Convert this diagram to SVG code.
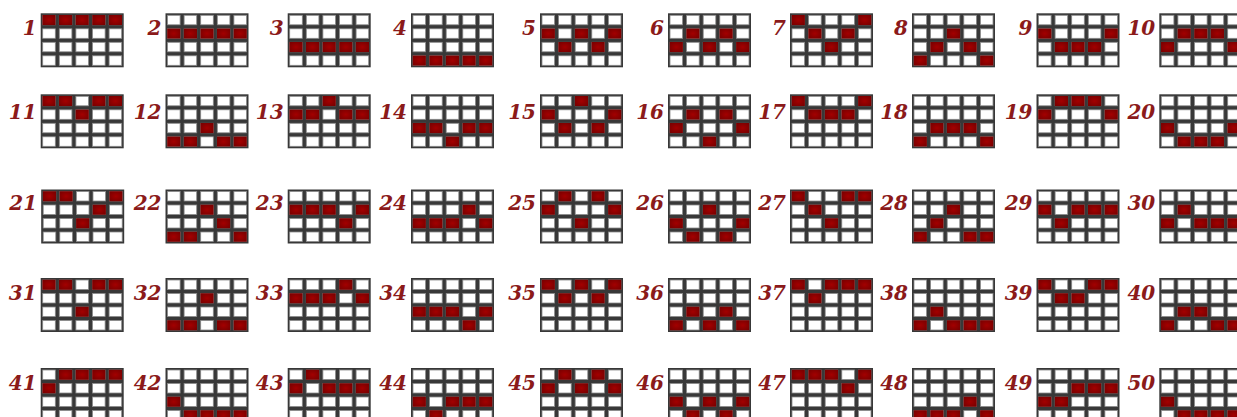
<svg xmlns="http://www.w3.org/2000/svg" xmlns:xlink="http://www.w3.org/1999/xlink" width="1237" height="417" viewBox="0 0 1237 417">
<style>
.num{font-family:"DejaVu Serif","Liberation Serif",serif;font-style:italic;font-weight:bold;font-size:20px;fill:#8b1a1a;text-anchor:end}
.bg{fill:#383838}
.cell{fill:#ffffff;stroke:#8a8a8a;stroke-width:0.8}
.hit{fill:url(#red)}
</style>
<defs>
<radialGradient id="red" cx="0.5" cy="0.5" r="0.6"><stop offset="0" stop-color="#a30000"/><stop offset="1" stop-color="#7a0000"/></radialGradient>
<rect id="h" class="hit" width="13.2" height="10.1"/>
<g id="grid">
<rect class="bg" width="83" height="54"/>
<rect class="cell" x="2" y="2" width="12.6" height="9.5"/><rect class="cell" x="18.6" y="2" width="12.6" height="9.5"/><rect class="cell" x="35.2" y="2" width="12.6" height="9.5"/><rect class="cell" x="51.8" y="2" width="12.6" height="9.5"/><rect class="cell" x="68.4" y="2" width="12.6" height="9.5"/>
<rect class="cell" x="2" y="15.5" width="12.6" height="9.5"/><rect class="cell" x="18.6" y="15.5" width="12.6" height="9.5"/><rect class="cell" x="35.2" y="15.5" width="12.6" height="9.5"/><rect class="cell" x="51.8" y="15.5" width="12.6" height="9.5"/><rect class="cell" x="68.4" y="15.5" width="12.6" height="9.5"/>
<rect class="cell" x="2" y="29" width="12.6" height="9.5"/><rect class="cell" x="18.6" y="29" width="12.6" height="9.5"/><rect class="cell" x="35.2" y="29" width="12.6" height="9.5"/><rect class="cell" x="51.8" y="29" width="12.6" height="9.5"/><rect class="cell" x="68.4" y="29" width="12.6" height="9.5"/>
<rect class="cell" x="2" y="42.5" width="12.6" height="9.5"/><rect class="cell" x="18.6" y="42.5" width="12.6" height="9.5"/><rect class="cell" x="35.2" y="42.5" width="12.6" height="9.5"/><rect class="cell" x="51.8" y="42.5" width="12.6" height="9.5"/><rect class="cell" x="68.4" y="42.5" width="12.6" height="9.5"/>
</g>
</defs>
<rect width="1237" height="417" fill="#ffffff"/>
<g id="connectors"/>
<!-- row 1 -->
<g id="line-1" transform="translate(40.7,13.3)"><use href="#grid"/><use href="#h" x="1.7" y="1.7"/><use href="#h" x="18.3" y="1.7"/><use href="#h" x="34.9" y="1.7"/><use href="#h" x="51.5" y="1.7"/><use href="#h" x="68.1" y="1.7"/><text class="num" x="-4" y="22">1</text></g>
<g id="line-2" transform="translate(165.5,13.3)"><use href="#grid"/><use href="#h" x="1.7" y="15.2"/><use href="#h" x="18.3" y="15.2"/><use href="#h" x="34.9" y="15.2"/><use href="#h" x="51.5" y="15.2"/><use href="#h" x="68.1" y="15.2"/><text class="num" x="-4" y="22">2</text></g>
<g id="line-3" transform="translate(287.7,13.3)"><use href="#grid"/><use href="#h" x="1.7" y="28.7"/><use href="#h" x="18.3" y="28.7"/><use href="#h" x="34.9" y="28.7"/><use href="#h" x="51.5" y="28.7"/><use href="#h" x="68.1" y="28.7"/><text class="num" x="-4" y="22">3</text></g>
<g id="line-4" transform="translate(411,13.3)"><use href="#grid"/><use href="#h" x="1.7" y="42.2"/><use href="#h" x="18.3" y="42.2"/><use href="#h" x="34.9" y="42.2"/><use href="#h" x="51.5" y="42.2"/><use href="#h" x="68.1" y="42.2"/><text class="num" x="-4" y="22">4</text></g>
<g id="line-5" transform="translate(540,13.3)"><use href="#grid"/><use href="#h" x="1.7" y="15.2"/><use href="#h" x="18.3" y="28.7"/><use href="#h" x="34.9" y="15.2"/><use href="#h" x="51.5" y="28.7"/><use href="#h" x="68.1" y="15.2"/><text class="num" x="-4" y="22">5</text></g>
<g id="line-6" transform="translate(668,13.3)"><use href="#grid"/><use href="#h" x="1.7" y="28.7"/><use href="#h" x="18.3" y="15.2"/><use href="#h" x="34.9" y="28.7"/><use href="#h" x="51.5" y="15.2"/><use href="#h" x="68.1" y="28.7"/><text class="num" x="-4" y="22">6</text></g>
<g id="line-7" transform="translate(790,13.3)"><use href="#grid"/><use href="#h" x="1.7" y="1.7"/><use href="#h" x="18.3" y="15.2"/><use href="#h" x="34.9" y="28.7"/><use href="#h" x="51.5" y="15.2"/><use href="#h" x="68.1" y="1.7"/><text class="num" x="-4" y="22">7</text></g>
<g id="line-8" transform="translate(912,13.3)"><use href="#grid"/><use href="#h" x="1.7" y="42.2"/><use href="#h" x="18.3" y="28.7"/><use href="#h" x="34.9" y="15.2"/><use href="#h" x="51.5" y="28.7"/><use href="#h" x="68.1" y="42.2"/><text class="num" x="-4" y="22">8</text></g>
<g id="line-9" transform="translate(1036.5,13.3)"><use href="#grid"/><use href="#h" x="1.7" y="15.2"/><use href="#h" x="18.3" y="28.7"/><use href="#h" x="34.9" y="28.7"/><use href="#h" x="51.5" y="28.7"/><use href="#h" x="68.1" y="15.2"/><text class="num" x="-4" y="22">9</text></g>
<g id="line-10" transform="translate(1159.3,13.3)"><use href="#grid"/><use href="#h" x="1.7" y="28.7"/><use href="#h" x="18.3" y="15.2"/><use href="#h" x="34.9" y="15.2"/><use href="#h" x="51.5" y="15.2"/><use href="#h" x="68.1" y="28.7"/><text class="num" x="-4" y="22">10</text></g>
<!-- row 2 -->
<g id="line-11" transform="translate(40.7,94.3)"><use href="#grid"/><use href="#h" x="1.7" y="1.7"/><use href="#h" x="18.3" y="1.7"/><use href="#h" x="34.9" y="15.2"/><use href="#h" x="51.5" y="1.7"/><use href="#h" x="68.1" y="1.7"/><text class="num" x="-4" y="25">11</text></g>
<g id="line-12" transform="translate(165.5,94.3)"><use href="#grid"/><use href="#h" x="1.7" y="42.2"/><use href="#h" x="18.3" y="42.2"/><use href="#h" x="34.9" y="28.7"/><use href="#h" x="51.5" y="42.2"/><use href="#h" x="68.1" y="42.2"/><text class="num" x="-4" y="25">12</text></g>
<g id="line-13" transform="translate(287.7,94.3)"><use href="#grid"/><use href="#h" x="1.7" y="15.2"/><use href="#h" x="18.3" y="15.2"/><use href="#h" x="34.9" y="1.7"/><use href="#h" x="51.5" y="15.2"/><use href="#h" x="68.1" y="15.2"/><text class="num" x="-4" y="25">13</text></g>
<g id="line-14" transform="translate(411,94.3)"><use href="#grid"/><use href="#h" x="1.7" y="28.7"/><use href="#h" x="18.3" y="28.7"/><use href="#h" x="34.9" y="42.2"/><use href="#h" x="51.5" y="28.7"/><use href="#h" x="68.1" y="28.7"/><text class="num" x="-4" y="25">14</text></g>
<g id="line-15" transform="translate(540,94.3)"><use href="#grid"/><use href="#h" x="1.7" y="15.2"/><use href="#h" x="18.3" y="28.7"/><use href="#h" x="34.9" y="1.7"/><use href="#h" x="51.5" y="28.7"/><use href="#h" x="68.1" y="15.2"/><text class="num" x="-4" y="25">15</text></g>
<g id="line-16" transform="translate(668,94.3)"><use href="#grid"/><use href="#h" x="1.7" y="28.7"/><use href="#h" x="18.3" y="15.2"/><use href="#h" x="34.9" y="42.2"/><use href="#h" x="51.5" y="15.2"/><use href="#h" x="68.1" y="28.7"/><text class="num" x="-4" y="25">16</text></g>
<g id="line-17" transform="translate(790,94.3)"><use href="#grid"/><use href="#h" x="1.7" y="1.7"/><use href="#h" x="18.3" y="15.2"/><use href="#h" x="34.9" y="15.2"/><use href="#h" x="51.5" y="15.2"/><use href="#h" x="68.1" y="1.7"/><text class="num" x="-4" y="25">17</text></g>
<g id="line-18" transform="translate(912,94.3)"><use href="#grid"/><use href="#h" x="1.7" y="42.2"/><use href="#h" x="18.3" y="28.7"/><use href="#h" x="34.9" y="28.7"/><use href="#h" x="51.5" y="28.7"/><use href="#h" x="68.1" y="42.2"/><text class="num" x="-4" y="25">18</text></g>
<g id="line-19" transform="translate(1036.5,94.3)"><use href="#grid"/><use href="#h" x="1.7" y="15.2"/><use href="#h" x="18.3" y="1.7"/><use href="#h" x="34.9" y="1.7"/><use href="#h" x="51.5" y="1.7"/><use href="#h" x="68.1" y="15.2"/><text class="num" x="-4" y="25">19</text></g>
<g id="line-20" transform="translate(1159.3,94.3)"><use href="#grid"/><use href="#h" x="1.7" y="28.7"/><use href="#h" x="18.3" y="42.2"/><use href="#h" x="34.9" y="42.2"/><use href="#h" x="51.5" y="42.2"/><use href="#h" x="68.1" y="28.7"/><text class="num" x="-4" y="25">20</text></g>
<!-- row 3 -->
<g id="line-21" transform="translate(41.2,189.5)"><use href="#grid"/><use href="#h" x="1.7" y="1.7"/><use href="#h" x="18.3" y="1.7"/><use href="#h" x="34.9" y="28.7"/><use href="#h" x="51.5" y="15.2"/><use href="#h" x="68.1" y="1.7"/><text class="num" x="-4" y="20.5">21</text></g>
<g id="line-22" transform="translate(165.5,189.5)"><use href="#grid"/><use href="#h" x="1.7" y="42.2"/><use href="#h" x="18.3" y="42.2"/><use href="#h" x="34.9" y="15.2"/><use href="#h" x="51.5" y="28.7"/><use href="#h" x="68.1" y="42.2"/><text class="num" x="-4" y="20.5">22</text></g>
<g id="line-23" transform="translate(287.7,189.5)"><use href="#grid"/><use href="#h" x="1.7" y="15.2"/><use href="#h" x="18.3" y="15.2"/><use href="#h" x="34.9" y="15.2"/><use href="#h" x="51.5" y="28.7"/><use href="#h" x="68.1" y="15.2"/><text class="num" x="-4" y="20.5">23</text></g>
<g id="line-24" transform="translate(411,189.5)"><use href="#grid"/><use href="#h" x="1.7" y="28.7"/><use href="#h" x="18.3" y="28.7"/><use href="#h" x="34.9" y="28.7"/><use href="#h" x="51.5" y="15.2"/><use href="#h" x="68.1" y="28.7"/><text class="num" x="-4" y="20.5">24</text></g>
<g id="line-25" transform="translate(540,189.5)"><use href="#grid"/><use href="#h" x="1.7" y="15.2"/><use href="#h" x="18.3" y="1.7"/><use href="#h" x="34.9" y="28.7"/><use href="#h" x="51.5" y="1.7"/><use href="#h" x="68.1" y="15.2"/><text class="num" x="-4" y="20.5">25</text></g>
<g id="line-26" transform="translate(668,189.5)"><use href="#grid"/><use href="#h" x="1.7" y="28.7"/><use href="#h" x="18.3" y="42.2"/><use href="#h" x="34.9" y="15.2"/><use href="#h" x="51.5" y="42.2"/><use href="#h" x="68.1" y="28.7"/><text class="num" x="-4" y="20.5">26</text></g>
<g id="line-27" transform="translate(790,189.5)"><use href="#grid"/><use href="#h" x="1.7" y="1.7"/><use href="#h" x="18.3" y="15.2"/><use href="#h" x="34.9" y="28.7"/><use href="#h" x="51.5" y="1.7"/><use href="#h" x="68.1" y="1.7"/><text class="num" x="-4" y="20.5">27</text></g>
<g id="line-28" transform="translate(912,189.5)"><use href="#grid"/><use href="#h" x="1.7" y="42.2"/><use href="#h" x="18.3" y="28.7"/><use href="#h" x="34.9" y="15.2"/><use href="#h" x="51.5" y="42.2"/><use href="#h" x="68.1" y="42.2"/><text class="num" x="-4" y="20.5">28</text></g>
<g id="line-29" transform="translate(1036.5,189.5)"><use href="#grid"/><use href="#h" x="1.7" y="15.2"/><use href="#h" x="18.3" y="28.7"/><use href="#h" x="34.9" y="15.2"/><use href="#h" x="51.5" y="15.2"/><use href="#h" x="68.1" y="15.2"/><text class="num" x="-4" y="20.5">29</text></g>
<g id="line-30" transform="translate(1159.3,189.5)"><use href="#grid"/><use href="#h" x="1.7" y="28.7"/><use href="#h" x="18.3" y="15.2"/><use href="#h" x="34.9" y="28.7"/><use href="#h" x="51.5" y="28.7"/><use href="#h" x="68.1" y="28.7"/><text class="num" x="-4" y="20.5">30</text></g>
<!-- row 4 -->
<g id="line-31" transform="translate(40.7,278)"><use href="#grid"/><use href="#h" x="1.7" y="1.7"/><use href="#h" x="18.3" y="1.7"/><use href="#h" x="34.9" y="28.7"/><use href="#h" x="51.5" y="1.7"/><use href="#h" x="68.1" y="1.7"/><text class="num" x="-4" y="22">31</text></g>
<g id="line-32" transform="translate(165.5,278)"><use href="#grid"/><use href="#h" x="1.7" y="42.2"/><use href="#h" x="18.3" y="42.2"/><use href="#h" x="34.9" y="15.2"/><use href="#h" x="51.5" y="42.2"/><use href="#h" x="68.1" y="42.2"/><text class="num" x="-4" y="22">32</text></g>
<g id="line-33" transform="translate(287.7,278)"><use href="#grid"/><use href="#h" x="1.7" y="15.2"/><use href="#h" x="18.3" y="15.2"/><use href="#h" x="34.9" y="15.2"/><use href="#h" x="51.5" y="1.7"/><use href="#h" x="68.1" y="15.2"/><text class="num" x="-4" y="22">33</text></g>
<g id="line-34" transform="translate(411,278)"><use href="#grid"/><use href="#h" x="1.7" y="28.7"/><use href="#h" x="18.3" y="28.7"/><use href="#h" x="34.9" y="28.7"/><use href="#h" x="51.5" y="42.2"/><use href="#h" x="68.1" y="28.7"/><text class="num" x="-4" y="22">34</text></g>
<g id="line-35" transform="translate(540,278)"><use href="#grid"/><use href="#h" x="1.7" y="1.7"/><use href="#h" x="18.3" y="15.2"/><use href="#h" x="34.9" y="1.7"/><use href="#h" x="51.5" y="15.2"/><use href="#h" x="68.1" y="1.7"/><text class="num" x="-4" y="22">35</text></g>
<g id="line-36" transform="translate(668,278)"><use href="#grid"/><use href="#h" x="1.7" y="42.2"/><use href="#h" x="18.3" y="28.7"/><use href="#h" x="34.9" y="42.2"/><use href="#h" x="51.5" y="28.7"/><use href="#h" x="68.1" y="42.2"/><text class="num" x="-4" y="22">36</text></g>
<g id="line-37" transform="translate(790,278)"><use href="#grid"/><use href="#h" x="1.7" y="1.7"/><use href="#h" x="18.3" y="15.2"/><use href="#h" x="34.9" y="1.7"/><use href="#h" x="51.5" y="1.7"/><use href="#h" x="68.1" y="1.7"/><text class="num" x="-4" y="22">37</text></g>
<g id="line-38" transform="translate(912,278)"><use href="#grid"/><use href="#h" x="1.7" y="42.2"/><use href="#h" x="18.3" y="28.7"/><use href="#h" x="34.9" y="42.2"/><use href="#h" x="51.5" y="42.2"/><use href="#h" x="68.1" y="42.2"/><text class="num" x="-4" y="22">38</text></g>
<g id="line-39" transform="translate(1036.5,278)"><use href="#grid"/><use href="#h" x="1.7" y="1.7"/><use href="#h" x="18.3" y="15.2"/><use href="#h" x="34.9" y="15.2"/><use href="#h" x="51.5" y="1.7"/><use href="#h" x="68.1" y="1.7"/><text class="num" x="-4" y="22">39</text></g>
<g id="line-40" transform="translate(1159.3,278)"><use href="#grid"/><use href="#h" x="1.7" y="42.2"/><use href="#h" x="18.3" y="28.7"/><use href="#h" x="34.9" y="28.7"/><use href="#h" x="51.5" y="42.2"/><use href="#h" x="68.1" y="42.2"/><text class="num" x="-4" y="22">40</text></g>
<!-- row 5 -->
<g id="line-41" transform="translate(40.7,368)"><use href="#grid"/><use href="#h" x="1.7" y="15.2"/><use href="#h" x="18.3" y="1.7"/><use href="#h" x="34.9" y="1.7"/><use href="#h" x="51.5" y="1.7"/><use href="#h" x="68.1" y="1.7"/><text class="num" x="-4" y="22">41</text></g>
<g id="line-42" transform="translate(165.5,368)"><use href="#grid"/><use href="#h" x="1.7" y="28.7"/><use href="#h" x="18.3" y="42.2"/><use href="#h" x="34.9" y="42.2"/><use href="#h" x="51.5" y="42.2"/><use href="#h" x="68.1" y="42.2"/><text class="num" x="-4" y="22">42</text></g>
<g id="line-43" transform="translate(287.7,368)"><use href="#grid"/><use href="#h" x="1.7" y="15.2"/><use href="#h" x="18.3" y="1.7"/><use href="#h" x="34.9" y="15.2"/><use href="#h" x="51.5" y="15.2"/><use href="#h" x="68.1" y="15.2"/><text class="num" x="-4" y="22">43</text></g>
<g id="line-44" transform="translate(411,368)"><use href="#grid"/><use href="#h" x="1.7" y="28.7"/><use href="#h" x="18.3" y="42.2"/><use href="#h" x="34.9" y="28.7"/><use href="#h" x="51.5" y="28.7"/><use href="#h" x="68.1" y="28.7"/><text class="num" x="-4" y="22">44</text></g>
<g id="line-45" transform="translate(540,368)"><use href="#grid"/><use href="#h" x="1.7" y="15.2"/><use href="#h" x="18.3" y="1.7"/><use href="#h" x="34.9" y="15.2"/><use href="#h" x="51.5" y="1.7"/><use href="#h" x="68.1" y="15.2"/><text class="num" x="-4" y="22">45</text></g>
<g id="line-46" transform="translate(668,368)"><use href="#grid"/><use href="#h" x="1.7" y="28.7"/><use href="#h" x="18.3" y="42.2"/><use href="#h" x="34.9" y="28.7"/><use href="#h" x="51.5" y="42.2"/><use href="#h" x="68.1" y="28.7"/><text class="num" x="-4" y="22">46</text></g>
<g id="line-47" transform="translate(790,368)"><use href="#grid"/><use href="#h" x="1.7" y="1.7"/><use href="#h" x="18.3" y="1.7"/><use href="#h" x="34.9" y="1.7"/><use href="#h" x="51.5" y="15.2"/><use href="#h" x="68.1" y="1.7"/><text class="num" x="-4" y="22">47</text></g>
<g id="line-48" transform="translate(912,368)"><use href="#grid"/><use href="#h" x="1.7" y="42.2"/><use href="#h" x="18.3" y="42.2"/><use href="#h" x="34.9" y="42.2"/><use href="#h" x="51.5" y="28.7"/><use href="#h" x="68.1" y="42.2"/><text class="num" x="-4" y="22">48</text></g>
<g id="line-49" transform="translate(1036.5,368)"><use href="#grid"/><use href="#h" x="1.7" y="28.7"/><use href="#h" x="18.3" y="28.7"/><use href="#h" x="34.9" y="15.2"/><use href="#h" x="51.5" y="15.2"/><use href="#h" x="68.1" y="15.2"/><text class="num" x="-4" y="22">49</text></g>
<g id="line-50" transform="translate(1159.3,368)"><use href="#grid"/><use href="#h" x="1.7" y="28.7"/><use href="#h" x="18.3" y="42.2"/><use href="#h" x="34.9" y="42.2"/><use href="#h" x="51.5" y="42.2"/><use href="#h" x="68.1" y="42.2"/><text class="num" x="-4" y="22">50</text></g>
</svg>
